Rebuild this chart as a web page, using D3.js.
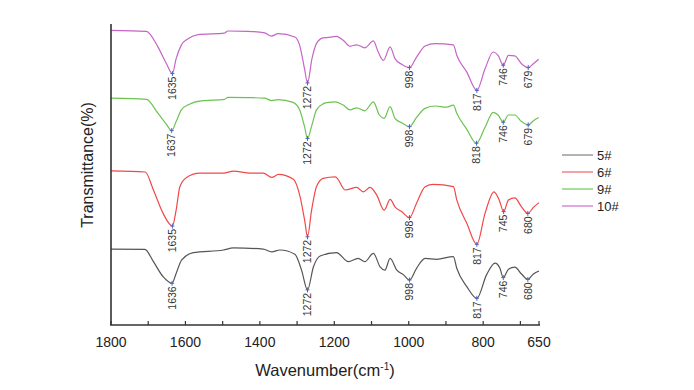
<!DOCTYPE html>
<html><head><meta charset="utf-8">
<script src="https://cdn.jsdelivr.net/npm/d3@7/dist/d3.min.js"></script>
<style>body{margin:0;background:#fff}svg{display:block}text{font-family:Arial,"Liberation Sans",sans-serif}</style>
</head><body><svg id="c" width="694" height="390"></svg>
<script>
const seriesNames = ["5#", "6#", "9#", "10#"];
const lineColors = ["#555555", "#f04848", "#6cc352", "#c565c5"];
const legendColors = ["#8a8a8a", "#f07070", "#7ccc66", "#d27ad0"];

const wn5 = [1800,1709,1686,1660,1636,1625,1610,1579,1498,1471,1391,1368,1346,1306,1288,1272,1256,1238,1194,1162,1136,1118,1095,1077,1064,1050,1032,1014,998,979,956,925,880,871,844,817,791,768,755,746,732,715,697,680,665,650];
const t5  = [25.3,25.2,21.1,16.1,13.9,17.2,21.7,24.1,25.0,25.7,25.3,24.4,25.0,23.6,18.3,11.7,19.4,23.0,24.1,21.1,22.2,21.1,23.9,19.4,18.3,22.2,18.3,16.7,15.0,18.9,22.2,21.9,22.8,18.9,12.8,8.9,16.7,20.6,18.9,15.8,18.6,19.3,17.0,15.2,17.0,18.0];

const wn6 = [1800,1708,1686,1660,1635,1625,1615,1597,1561,1498,1471,1426,1391,1368,1350,1310,1292,1279,1272,1261,1248,1230,1197,1170,1140,1122,1104,1086,1066,1050,1037,1019,998,979,956,934,880,871,844,817,795,771,757,745,732,715,697,680,665,650];
const t6  = [51.4,51.0,45.0,37.2,33.0,38.3,46.1,49.2,50.6,50.6,51.3,50.6,50.6,49.2,50.2,48.6,42.8,34.4,29.4,38.3,46.1,48.9,49.4,45.0,45.9,44.4,45.9,43.3,38.3,41.9,39.4,37.8,35.8,40.6,46.1,46.9,46.1,41.7,33.9,26.9,37.2,44.4,41.7,37.8,41.7,42.4,39.4,37.2,39.2,40.8];

const wn9 = [1800,1705,1674,1651,1637,1625,1611,1589,1557,1495,1486,1432,1387,1369,1351,1311,1293,1280,1272,1260,1248,1230,1220,1198,1176,1158,1140,1118,1095,1079,1066,1050,1037,1019,998,979,956,929,898,880,871,844,818,795,773,760,746,732,715,697,679,665,651];
const t9  = [75.6,75.2,70.6,66.9,64.8,67.8,71.7,73.6,74.7,75.2,75.9,75.8,75.6,74.8,75.1,74.2,71.7,66.1,62.2,66.7,71.7,73.7,74.1,74.4,73.3,71.7,72.4,71.4,74.4,70.0,68.9,72.8,68.9,67.4,66.1,69.2,72.2,73.0,72.6,73.3,70.6,65.2,60.6,65.9,70.9,70.0,67.6,70.0,70.0,67.8,66.7,68.1,69.2];

const wn10 = [1800,1705,1674,1651,1635,1625,1611,1593,1566,1495,1486,1432,1387,1369,1351,1306,1293,1280,1272,1260,1248,1230,1220,1194,1176,1158,1140,1118,1095,1082,1068,1050,1037,1019,998,979,956,929,880,871,844,817,795,773,760,746,732,715,697,679,665,651];
const t10  = [98.2,97.9,92.7,87.1,83.8,88.8,93.3,95.4,96.8,97.3,98.0,97.9,97.4,96.3,97.1,96.0,93.2,85.4,80.7,88.8,93.8,95.7,95.8,96.2,94.9,92.9,93.4,92.4,94.7,91.0,88.2,92.7,88.8,86.9,85.8,89.3,93.0,93.8,93.4,89.9,84.3,78.2,85.4,91.0,89.9,86.6,89.9,89.7,87.1,85.8,87.1,88.6];

const peaks5  = [1636,1272,998,817,746,680];
const peaks6  = [1635,1272,998,817,745,680];
const peaks9  = [1637,1272,998,818,746,679];
const peaks10 = [1635,1272,998,817,746,679];

const xTicks = [1800,1700,1600,1500,1400,1300,1200,1100,1000,900,800,700,650];
const xTickLabels = [1800,1600,1400,1200,1000,800,650];

const svg = d3.select("#c");
const x = d3.scaleLinear().domain([1800,650]).range([111,539]);
const y = d3.scaleLinear().domain([0,100]).range([325,25]);

const all = [
  {wn:wn5,t:t5,pk:peaks5},
  {wn:wn6,t:t6,pk:peaks6},
  {wn:wn9,t:t9,pk:peaks9},
  {wn:wn10,t:t10,pk:peaks10}
];

const line = d3.line().x(d=>x(d[0])).y(d=>y(d[1])).curve(d3.curveMonotoneX);

all.forEach((s,i)=>{
  const pts = s.wn.map((w,j)=>[w,s.t[j]]);
  svg.append("path").attr("d",line(pts)).attr("fill","none")
    .attr("stroke",lineColors[i]).attr("stroke-width",1.2);
  s.pk.forEach(p=>{
    let best = pts[0];
    pts.forEach(q=>{ if (Math.abs(q[0]-p) < Math.abs(best[0]-p)) best=q; });
    const px = x(p), py = y(best[1]);
    const g = svg.append("g");
    g.append("line").attr("x1",px-2).attr("x2",px+2).attr("y1",py).attr("y2",py).attr("stroke","#4a64c8").attr("stroke-width",1);
    g.append("line").attr("x1",px).attr("x2",px).attr("y1",py-2.5).attr("y2",py+2.5).attr("stroke","#4a64c8").attr("stroke-width",1);
    g.append("text").attr("transform",`translate(${px},${py+3}) rotate(-90)`)
      .attr("text-anchor","end").attr("dy","0.36em").attr("font-size",10.5).attr("fill","#333").text(p);
  });
});

// axes
svg.append("line").attr("x1",111).attr("x2",111).attr("y1",24).attr("y2",325).attr("stroke","#333").attr("stroke-width",1.6);
svg.append("line").attr("x1",110).attr("x2",540).attr("y1",325).attr("y2",325).attr("stroke","#333").attr("stroke-width",1.6);
svg.selectAll(".tk").data(xTicks).enter().append("line")
  .attr("x1",d=>x(d)).attr("x2",d=>x(d)).attr("y1",325).attr("y2",321).attr("stroke","#333").attr("stroke-width",1.2);
svg.selectAll(".tl").data(xTickLabels).enter().append("text")
  .attr("x",d=>x(d)).attr("y",347).attr("text-anchor","middle").attr("font-size",14).attr("fill","#222").text(d=>d);

const xt = svg.append("text").attr("x",325).attr("y",376).attr("text-anchor","middle").attr("font-size",16.5).attr("fill","#222");
xt.append("tspan").text("Wavenumber(cm");
xt.append("tspan").attr("font-size",10).attr("dy",-6).text("-1");
xt.append("tspan").attr("dy",6).text(")");

svg.append("text").attr("transform","translate(93,165) rotate(-90)").attr("text-anchor","middle")
  .attr("font-size",16).attr("fill","#222").text("Transmittance(%)");

// legend
seriesNames.forEach((n,i)=>{
  const ly = 155 + i*17;
  svg.append("line").attr("x1",562).attr("x2",593).attr("y1",ly).attr("y2",ly).attr("stroke",legendColors[i]).attr("stroke-width",1.3);
  svg.append("text").attr("x",597).attr("y",ly).attr("dy","0.36em").attr("font-size",13).attr("fill","#222").text(n);
});
</script></body></html>
